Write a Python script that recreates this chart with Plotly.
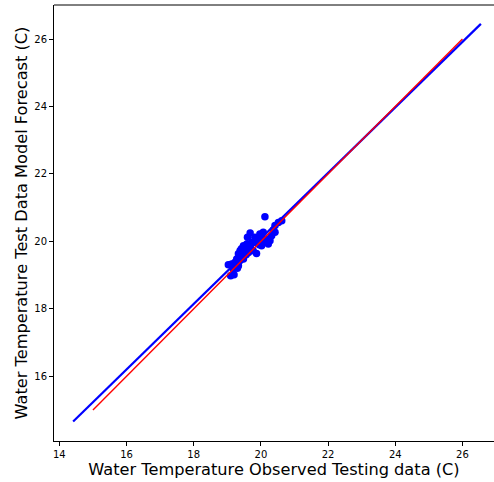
import plotly.graph_objects as go

# Observed vs forecast (test data)
obs_x = [20.12, 19.68, 20.62, 20.52, 20.42, 20.37, 20.32, 20.27, 20.17, 19.87,
         19.97, 20.07, 19.82, 19.92, 19.73, 19.58, 19.48, 19.53, 19.38, 19.43,
         19.33, 19.63, 19.68, 19.28, 19.23, 19.48, 19.13, 19.03, 19.10, 19.20,
         19.18, 19.33, 19.38, 19.77, 20.02, 20.12, 20.22, 20.42, 19.87, 19.42,
         19.60, 20.00, 19.95, 19.56, 19.30]
fc_y = [20.73, 20.25, 20.61, 20.56, 20.47, 20.34, 20.17, 20.02, 20.07, 19.64,
        20.22, 20.27, 20.12, 20.04, 19.97, 19.92, 19.87, 19.74, 19.72, 19.58,
        19.63, 19.67, 19.82, 19.48, 19.38, 19.48, 19.33, 19.31, 18.98, 19.01,
        19.18, 19.28, 19.43, 19.72, 19.87, 19.97, 19.92, 20.27, 19.97, 19.78,
        20.12, 20.10, 19.90, 19.60, 19.20]

# Identity line and fitted line
ident_x = [15, 26]
ident_y = [15, 26]
fit_x = [14.41, 26.55]
fit_y = [14.66, 26.45]

x_ticks = [14, 16, 18, 20, 22, 24, 26]
y_ticks = [16, 18, 20, 22, 24, 26]

fig = go.Figure()
fig.add_trace(go.Scatter(x=obs_x, y=fc_y, mode="markers",
                         marker=dict(color="#0000ff", size=7.5, line=dict(width=0)),
                         showlegend=False))
fig.add_trace(go.Scatter(x=fit_x, y=fit_y, mode="lines",
                         line=dict(color="#0000ff", width=2.2), showlegend=False))
fig.add_trace(go.Scatter(x=ident_x, y=ident_y, mode="lines",
                         line=dict(color="#ff0000", width=1.4), showlegend=False))

axis_common = dict(showgrid=False, zeroline=False, showline=True, linecolor="black",
                   linewidth=1, ticks="outside", ticklen=4, tickwidth=1, tickcolor="black",
                   automargin=False, mirror=False,
                   tickfont=dict(family="DejaVu Sans", size=10, color="black"))

fig.update_layout(
    width=494, height=482,
    margin=dict(l=54, r=0, t=5, b=41),
    paper_bgcolor="white", plot_bgcolor="white",
    font=dict(family="DejaVu Sans", color="black"),
    xaxis=dict(range=[13.84, 26.94], tickvals=x_ticks,
               title=dict(text="Water Temperature Observed Testing data (C)",
                          font=dict(size=16.2, family="DejaVu Sans"), standoff=2),
               **axis_common),
    yaxis=dict(range=[14.08, 27.01], tickvals=y_ticks,
               title=dict(text="Water Temperature Test Data Model Forecast (C)",
                          font=dict(size=16.2, family="DejaVu Sans"), standoff=2),
               **axis_common),
)
# top spine only (no right spine visible)
fig.add_shape(type="line", xref="paper", yref="paper", x0=0, x1=1, y0=1, y1=1,
              line=dict(color="black", width=1))

fig.write_html("out.html", config={"displayModeBar": False},
               post_script="document.body.style.margin='0';document.body.style.overflow='hidden';")
